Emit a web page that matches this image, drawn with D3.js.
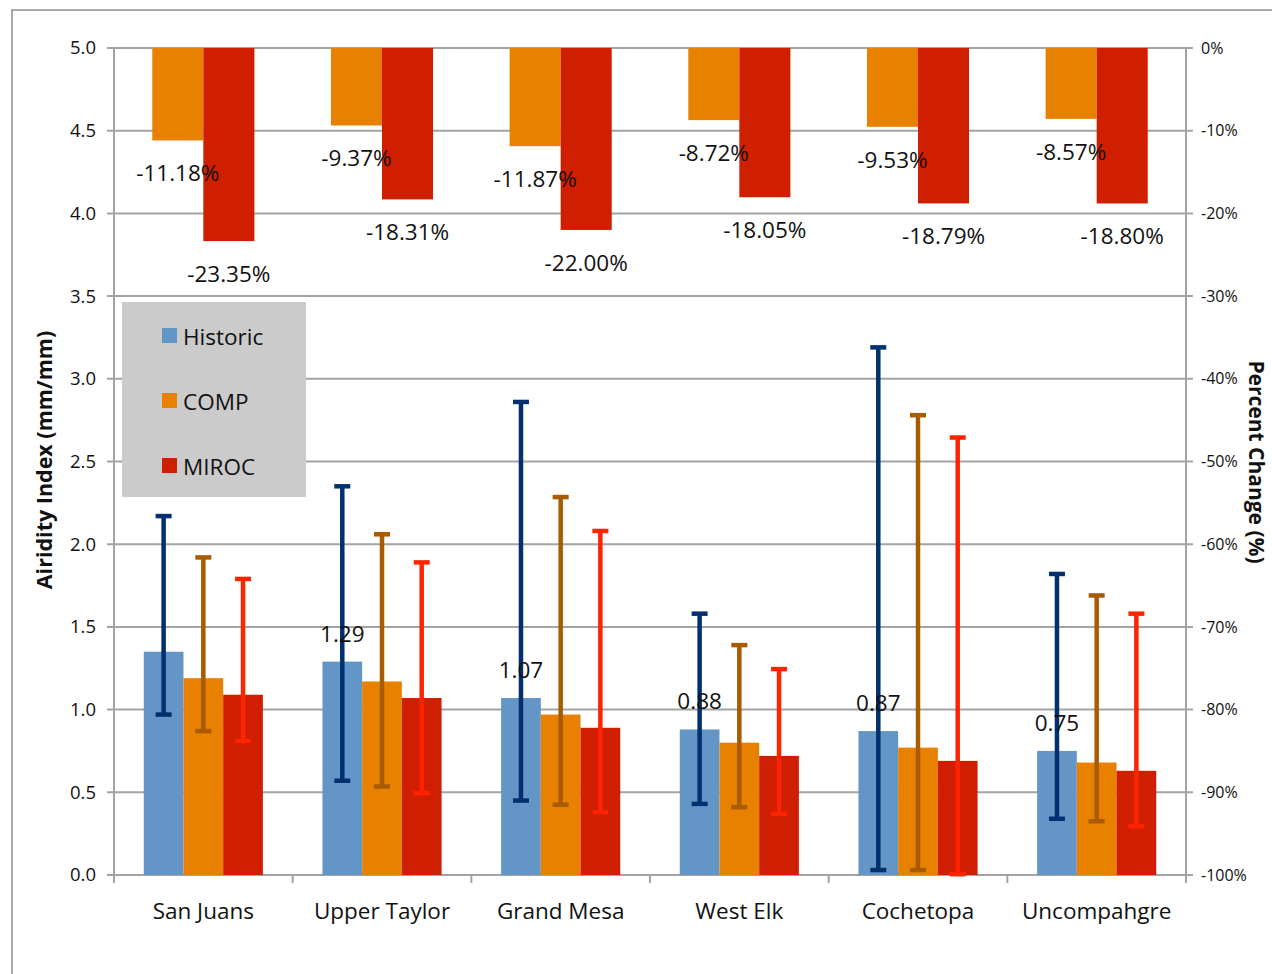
<!DOCTYPE html>
<html><head><meta charset="utf-8">
<script src="https://cdn.jsdelivr.net/npm/d3@7"></script>
<style>html,body{margin:0;padding:0;background:#fff;} svg{display:block;font-family:"Open Sans",sans-serif;}</style>
</head><body>
<svg id="chart" width="1272" height="974"></svg>
<script>
const categories = ["San Juans", "Upper Taylor", "Grand Mesa", "West Elk", "Cochetopa", "Uncompahgre"];
const seriesNames = ["Historic", "COMP", "MIROC"];
const historic = [1.35, 1.29, 1.07, 0.88, 0.87, 0.75];
const comp = [1.19, 1.17, 0.97, 0.80, 0.77, 0.68];
const miroc = [1.09, 1.07, 0.89, 0.72, 0.69, 0.63];
const historicUpper = [2.17, 2.35, 2.86, 1.58, 3.19, 1.82];
const historicLower = [0.97, 0.57, 0.45, 0.43, 0.03, 0.34];
const compUpper = [1.92, 2.06, 2.285, 1.39, 2.78, 1.69];
const compLower = [0.87, 0.535, 0.425, 0.41, 0.03, 0.325];
const mirocUpper = [1.79, 1.89, 2.08, 1.245, 2.645, 1.58];
const mirocLower = [0.81, 0.495, 0.38, 0.37, 0.005, 0.295];
const compPct = [-11.18, -9.37, -11.87, -8.72, -9.53, -8.57];
const mirocPct = [-23.35, -18.31, -22.00, -18.05, -18.79, -18.80];
const historicLabels = ["", "1.29", "1.07", "0.88", "0.87", "0.75"];
const leftTicks = [0, 0.5, 1, 1.5, 2, 2.5, 3, 3.5, 4, 4.5, 5];
const rightTicks = [0, -10, -20, -30, -40, -50, -60, -70, -80, -90, -100];

const barColors = ["#6396C7", "#E88000", "#CF1E00"];
const errColors = ["#00306F", "#A95B00", "#FF2400"];
const grid = "#a3a3a3";

const svg = d3.select("#chart");
const L = 114, R = 1186, T = 48, B = 875;

// outer frame
svg.append("rect").attr("x", 12).attr("y", 10).attr("width", 1300).attr("height", 1000)
  .attr("fill", "none").attr("stroke", "#aaa").attr("stroke-width", 2);

const x = d3.scaleBand().domain(categories).range([L, R]).padding(0);
const y = d3.scaleLinear().domain([0, 5]).range([B, T]);
const yp = d3.scaleLinear().domain([-100, 0]).range([B, T]);

const bw = x.bandwidth();
const w3 = bw / 4.5, w2 = bw / 3.5;

// gridlines
svg.append("g").selectAll("line").data(leftTicks).join("line")
  .attr("x1", L - 7).attr("x2", R + 7)
  .attr("y1", d => y(d)).attr("y2", d => y(d))
  .attr("stroke", grid).attr("stroke-width", 2);

// axes lines
svg.append("line").attr("x1", L).attr("x2", L).attr("y1", T).attr("y2", B + 7).attr("stroke", grid).attr("stroke-width", 2);
svg.append("line").attr("x1", R).attr("x2", R).attr("y1", T).attr("y2", B + 7).attr("stroke", grid).attr("stroke-width", 2);
svg.append("g").selectAll("line").data(d3.range(categories.length + 1)).join("line")
  .attr("x1", i => L + i * bw).attr("x2", i => L + i * bw)
  .attr("y1", B).attr("y2", B + 8).attr("stroke", grid).attr("stroke-width", 2);

// left tick labels
svg.append("g").selectAll("text").data(leftTicks).join("text")
  .attr("x", 96).attr("y", d => y(d)).attr("dy", "0.35em")
  .attr("text-anchor", "end").attr("font-size", 18.5).attr("fill", "#111")
  .text(d => d.toFixed(1));

// right tick labels
svg.append("g").selectAll("text").data(rightTicks).join("text")
  .attr("x", 1201).attr("y", d => yp(d)).attr("dy", "0.35em")
  .attr("text-anchor", "start").attr("font-size", 16).attr("fill", "#111")
  .text(d => d + "%");

// category labels
svg.append("g").selectAll("text").data(categories).join("text")
  .attr("x", d => x(d) + bw / 2).attr("y", 919)
  .attr("text-anchor", "middle").attr("font-size", 22.5).attr("fill", "#111")
  .text(d => d);

// axis titles
svg.append("text").attr("transform", "translate(52,460) rotate(-90)")
  .attr("text-anchor", "middle").attr("font-size", 21.5).attr("font-weight", "bold").attr("fill", "#111")
  .text("Airidity Index (mm/mm)");
svg.append("text").attr("transform", "translate(1249,462) rotate(90)")
  .attr("text-anchor", "middle").attr("font-size", 21).attr("font-weight", "bold").attr("fill", "#111")
  .text("Percent Change (%)");

// percent bars (secondary axis)
const pctSeries = [compPct, mirocPct];
pctSeries.forEach((vals, s) => {
  svg.append("g").selectAll("rect").data(vals).join("rect")
    .attr("x", (d, i) => x(categories[i]) + bw / 2 - w2 + s * w2)
    .attr("y", yp(0)).attr("width", w2)
    .attr("height", d => yp(d) - yp(0))
    .attr("fill", barColors[s + 1]);
});

// legend
const lg = svg.append("g");
lg.append("rect").attr("x", 122).attr("y", 302).attr("width", 184).attr("height", 195).attr("fill", "#cbcbcb");
seriesNames.forEach((n, i) => {
  const by = 345 + i * 65;
  lg.append("rect").attr("x", 162).attr("y", by - 17).attr("width", 15).attr("height", 15).attr("fill", barColors[i]);
  lg.append("text").attr("x", 183).attr("y", by).attr("font-size", 22.5).attr("fill", "#111").text(n);
});

// primary bars
const valSeries = [historic, comp, miroc];
const upSeries = [historicUpper, compUpper, mirocUpper];
const loSeries = [historicLower, compLower, mirocLower];
valSeries.forEach((vals, s) => {
  svg.append("g").selectAll("rect").data(vals).join("rect")
    .attr("x", (d, i) => x(categories[i]) + bw / 2 - 1.5 * w3 + s * w3)
    .attr("y", d => y(d)).attr("width", w3)
    .attr("height", d => y(0) - y(d))
    .attr("fill", barColors[s]);
});

// error bars
valSeries.forEach((vals, s) => {
  const g = svg.append("g").attr("stroke", errColors[s]).attr("stroke-width", 4.5);
  vals.forEach((v, i) => {
    const cx = x(categories[i]) + bw / 2 - 1.5 * w3 + s * w3 + w3 / 2;
    const yu = y(upSeries[s][i]), yl = y(loSeries[s][i]);
    g.append("line").attr("x1", cx).attr("x2", cx).attr("y1", yu).attr("y2", yl);
    g.append("line").attr("x1", cx - 8).attr("x2", cx + 8).attr("y1", yu).attr("y2", yu);
    g.append("line").attr("x1", cx - 8).attr("x2", cx + 8).attr("y1", yl).attr("y2", yl);
  });
});

// historic value labels
svg.append("g").selectAll("text").data(historic).join("text")
  .attr("x", (d, i) => x(categories[i]) + bw / 2 - w3)
  .attr("y", d => y(d) - 20)
  .attr("text-anchor", "middle").attr("font-size", 22.5).attr("fill", "#111")
  .text((d, i) => historicLabels[i]);

// percent labels
pctSeries.forEach((vals, s) => {
  svg.append("g").selectAll("text").data(vals).join("text")
    .attr("x", (d, i) => x(categories[i]) + bw / 2 - w2 / 2 + s * w2)
    .attr("y", d => yp(d) + 41)
    .attr("text-anchor", "middle").attr("font-size", 22.5).attr("fill", "#111")
    .text(d => d.toFixed(2) + "%");
});
</script>
</body></html>
